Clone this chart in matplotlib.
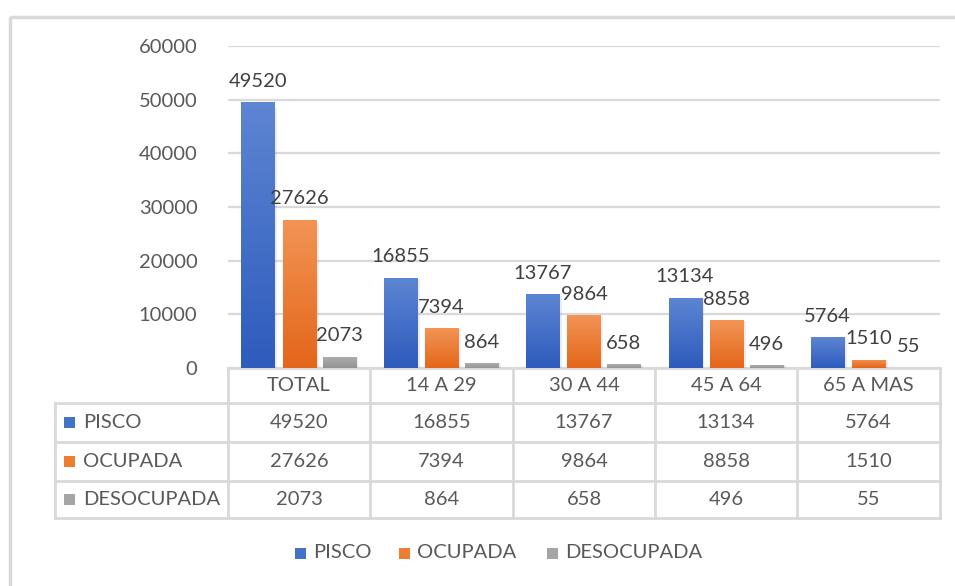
import matplotlib.pyplot as plt
import numpy as np
from matplotlib.colors import LinearSegmentedColormap
from matplotlib.patches import Rectangle

plt.rcParams["font.family"] = ["Lato", "DejaVu Sans"]

categories = ["TOTAL", "14 A 29", "30 A 44", "45 A 64", "65 A MAS"]
series_names = ["PISCO", "OCUPADA", "DESOCUPADA"]
pisco = [49520, 16855, 13767, 13134, 5764]
ocupada = [27626, 7394, 9864, 8858, 1510]
desocupada = [2073, 864, 658, 496, 55]
yticks = [0, 10000, 20000, 30000, 40000, 50000, 60000]

values = [pisco, ocupada, desocupada]
# (top, bottom) gradient colours for each series
shades = [("#5d85d2", "#2e5cbd"), ("#f29455", "#e4661a"), ("#adadad", "#959595")]
legend_colors = ["#4472c4", "#ed7d31", "#a5a5a5"]

W, H = 955, 586
GRID = "#d9d9d9"
TEXT = "#595959"
FS = 14.5

fig = plt.figure(figsize=(W / 100, H / 100), dpi=100)
fig.patch.set_facecolor("white")

# pixel overlay for frame, table and legend
ov = fig.add_axes([0, 0, 1, 1], zorder=0)
ov.set_xlim(0, W)
ov.set_ylim(H, 0)
ov.axis("off")

left, right, top, base = 228, 940, 46, 368
ax = fig.add_axes([left / W, 1 - base / H, (right - left) / W, (base - top) / H], zorder=1)
ax.patch.set_alpha(0)
n = len(categories)
x = np.arange(n)
width = 0.232
offsets = [-0.29, 0.0, 0.28]

for vals, off, (c_top, c_bot) in zip(values, offsets, shades):
    cmap = LinearSegmentedColormap.from_list("g", [c_bot, c_top])
    bars = ax.bar(x + off, vals, width, color=c_bot, lw=0, zorder=3)
    for b, v in zip(bars, vals):
        bx, bw, bh = b.get_x(), b.get_width(), b.get_height()
        # soft drop shadow on the right side
        ax.add_patch(Rectangle((bx + bw, 0), 0.02, bh * 0.98, color="black",
                               alpha=0.07, lw=0, zorder=2))
        grad = np.linspace(1, 0, 64).reshape(-1, 1)
        im = ax.imshow(grad, extent=[bx, bx + bw, 0, bh], aspect="auto",
                       cmap=cmap, zorder=4)
        im.set_clip_path(b)
        ax.annotate(str(v), (bx + bw / 2, bh), xytext=(0, 9), textcoords="offset points",
                    ha="center", va="bottom", fontsize=FS, color="#404040", zorder=5)

ax.set_xlim(-0.5, n - 0.5)
ax.set_ylim(0, 60000)
ax.set_yticks(yticks)
ax.set_yticklabels([str(t) for t in yticks], fontsize=FS, color=TEXT)
ax.tick_params(axis="y", length=0, pad=22)
ax.set_xticks([])
ax.grid(axis="y", color=GRID, lw=1.6, zorder=0)
for s in ax.spines.values():
    s.set_visible(False)

# outer frame, running off the right and bottom edges
ov.add_patch(Rectangle((10, 17), W, H, fill=False, ec=GRID, lw=2.5, clip_on=False))

# data table under the axis
col_edges = [228, 370, 513, 655, 797, 940]
row_edges = [368, 403, 442, 481, 518]
tab_left = 55
lw = 2
ov.plot([left, right], [368, 368], color=GRID, lw=lw)
for r in row_edges[1:]:
    ov.plot([tab_left, right], [r, r], color=GRID, lw=lw)
ov.plot([tab_left, tab_left], [row_edges[1], row_edges[-1]], color=GRID, lw=lw)
for c in col_edges:
    ov.plot([c, c], [row_edges[0], row_edges[-1]], color=GRID, lw=lw)

centers = [(a + b) / 2 for a, b in zip(col_edges[:-1], col_edges[1:])]
for cx, cat in zip(centers, categories):
    ov.text(cx, (row_edges[0] + row_edges[1]) / 2, cat, ha="center", va="center",
            fontsize=FS, color=TEXT)
for i, (name, vals, col) in enumerate(zip(series_names, values, legend_colors)):
    cy = (row_edges[i + 1] + row_edges[i + 2]) / 2
    ov.add_patch(Rectangle((64, cy - 5.5), 11, 11, color=col, lw=0))
    ov.text(83, cy, name, ha="left", va="center", fontsize=FS, color=TEXT)
    for cx, v in zip(centers, vals):
        ov.text(cx, cy, str(v), ha="center", va="center", fontsize=FS, color=TEXT)

# legend row
leg_x = [295, 399, 547]
for lx, name, col in zip(leg_x, series_names, legend_colors):
    ov.add_patch(Rectangle((lx, 548), 11, 11, color=col, lw=0))
    ov.text(lx + 18, 553, name, ha="left", va="center", fontsize=FS, color=TEXT)

fig.savefig("out.png", dpi=100, facecolor="white")
